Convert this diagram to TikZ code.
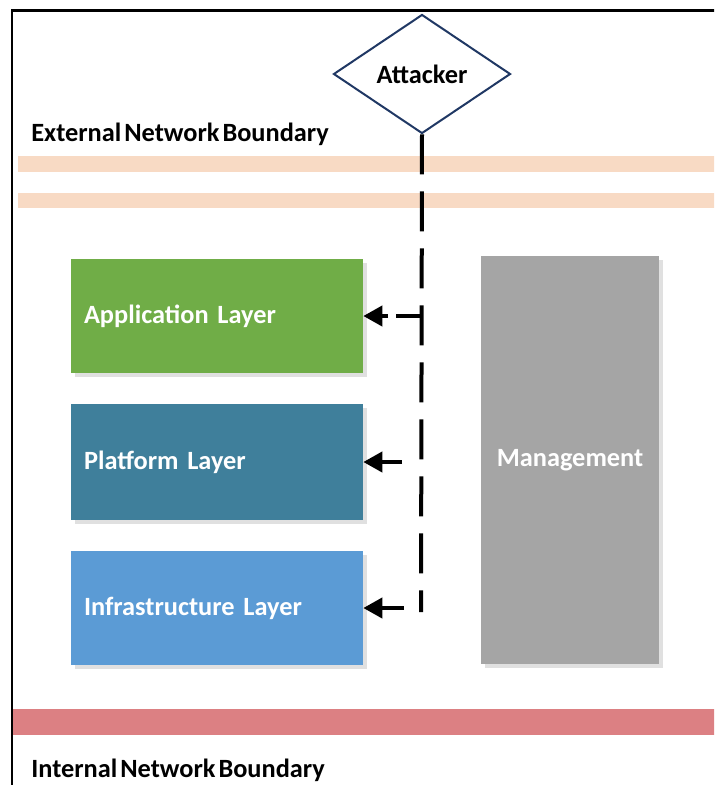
\documentclass[tikz,border=0pt]{standalone}
\usepackage{fontspec}
\setmainfont{Carlito}
\newfontfamily\boundfont{Carlito}[WordSpace=0.5]
\usetikzlibrary{shapes.geometric,arrows.meta,shadows}

\definecolor{appgreen}{HTML}{70AD47}
\definecolor{platteal}{HTML}{3F7F9B}
\definecolor{infrablue}{HTML}{5B9BD5}
\definecolor{mgmtgray}{HTML}{A5A5A5}
\definecolor{extband}{HTML}{F8DAC4}
\definecolor{intband}{HTML}{DC8083}
\definecolor{attackblue}{HTML}{203864}
\newcommand\labelsize{\fontsize{15}{18}\selectfont}

\tikzset{
  layer/.style={rectangle, fill=#1, minimum width=5.84cm, text width=5.32cm,
    inner xsep=0.26cm, align=left, text=white, font=\bfseries\labelsize,
    drop shadow={shadow xshift=0.08cm, shadow yshift=-0.08cm, fill=black!12, opacity=1}},
  boundary/.style={anchor=base west, inner sep=0pt, font=\boundfont\bfseries\labelsize},
  attack/.style={line width=0.08cm, dash pattern=on 0.8cm off 0.34cm},
  hit/.style={line width=0.08cm, -{Triangle[length=0.38cm,width=0.4cm]}}
}

\begin{document}
\begin{tikzpicture}[x=0.02cm,y=-0.02cm]
\clip (0,0) rectangle (714,785);
\draw[line width=0.06cm] (12,800) -- (12,10) -- (730,10);

\fill[extband] (18,156) rectangle (730,172);
\fill[extband] (18,193) rectangle (730,208);
\fill[intband] (13,709) rectangle (730,735);

\node[boundary] (extlabel) at (31,141) {External Network Boundary};
\node[boundary] (intlabel) at (31,777) {Internal Network Boundary};

\node[diamond, draw=attackblue, line width=0.04cm, fill=white, inner sep=0pt,
  minimum width=3.54cm, minimum height=2.38cm, font=\bfseries\labelsize] (attacker) at (422,74) {Attacker};

\node[layer=appgreen, minimum height=2.28cm] (app) at (217,316) {Application Layer};
\node[layer=platteal, minimum height=2.34cm] (platform) at (217,462) {Platform Layer};
\node[layer=infrablue, minimum height=2.28cm] (infra) at (217,608) {Infrastructure Layer};
\node[rectangle, fill=mgmtgray, minimum width=3.56cm, minimum height=8.18cm, text=white,
  font=\bfseries\labelsize, drop shadow={shadow xshift=0.08cm, shadow yshift=-0.08cm,
  fill=black!12, opacity=1}] (mgmt) at (570,460) {Management};

\coordinate (attackend) at (421,612);
\coordinate (tapp) at (421,316);
\coordinate (tplatform) at (421,462);
\coordinate (tinfra) at (421,608);

\draw[attack] (attacker.south) -- (attackend);
\draw[hit, dash pattern=on 0.5cm off 0.16cm] (tapp) -- (app.east);
\draw[hit, shorten <=0.38cm] (tplatform) -- (platform.east);
\draw[hit, shorten <=0.34cm] (tinfra) -- (infra.east);
\end{tikzpicture}
\end{document}
